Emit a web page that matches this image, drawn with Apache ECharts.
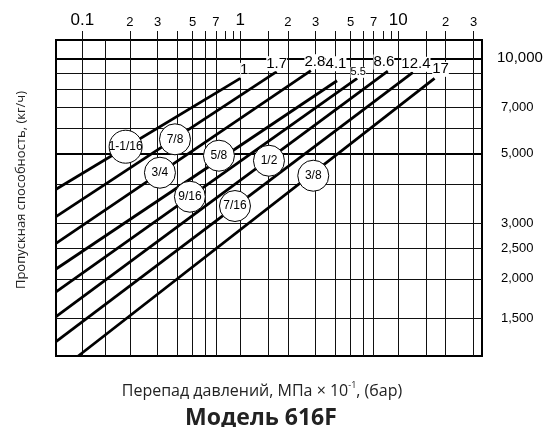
<!DOCTYPE html>
<html><head><meta charset="utf-8">
<script src="https://cdn.jsdelivr.net/npm/echarts@6/dist/echarts.min.js"></script>
<style>html,body{margin:0;padding:0;background:#fff}#c{width:554px;height:427px}</style>
</head><body><div id="c"></div>
<script>
// ---- data ----
const sizeLabels = ['1-1/16','7/8','3/4','5/8','9/16','1/2','7/16','3/8'];
const maxDpLabels = ['1','1.7','2.8','4.1','5.5','8.6','12.4','17'];
const dpStart   = [0.0681,0.0681,0.0681,0.0681,0.0681,0.0681,0.0681,0.0942];
const flowStart = [3844,3148,2592,2149,1820,1517,1264,1139];
const dpEnd     = [1,1.7,2.8,4.1,5.5,8.6,12.4,17];
const flowEnd   = [8640,9070,9135,8490,8640,9115,9030,8640];
const circleDp   = [0.188,0.386,0.310,0.733,0.480,1.52,0.926,2.90];
const circleFlow = [5246,5537,4339,4913,3642,4736,3403,4245];

const xGridValues = [0.1,0.14,0.2,0.3,0.4,0.5,0.6,0.7,1,1.5,2,3,4,5,6,7,10,15,20,30];
const xTickValues = [0.1,0.2,0.3,0.4,0.5,0.6,0.7,0.8,0.9,1,1.5,2,3,4,5,6,7,8,9,10,15,20,30];
const xLabelValues = [0.1,0.2,0.3,0.5,0.7,1,2,3,5,7,10,20,30];
const xLabelText   = ['0.1','2','3','5','7','1','2','3','5','7','10','2','3'];
const yGridValues = [1500,2000,2500,3000,4000,6000,7000,8000,9000];
const yThickValues = [5000,10000];
const yLabelValues = [1500,2000,2500,3000,5000,7000,10000];
const yLabelText   = ['1,500','2,000','2,500','3,000','5,000','7,000','10,000'];
const X_MIN = 0.0681, X_MAX = 33.96, Y_MIN = 1139, Y_MAX = 11430;

// ---- chart ----
const L = Math.log10;
const find = (vals, v) => vals.findIndex(t => Math.abs(L(t) - v) < 1e-6);
const LINE = '#111';
const labelNudge = [[4,-8],[0,-8],[4,-9],[-1,-17],[1,-6],[-4,-9],[3,-8],[6,-9]];
const NARROW = '"Liberation Sans Narrow", "Liberation Sans", sans-serif';

const xBase = {type:'value', min:L(X_MIN), max:L(X_MAX), position:'top', axisLine:{show:false}};
const yBase = {type:'value', min:L(Y_MIN), max:L(Y_MAX), position:'right', axisLine:{show:false}};

const series = [];
for (let i = 0; i < sizeLabels.length; i++) {
  series.push({type:'line', xAxisIndex:0, yAxisIndex:0, symbol:'none', silent:true, z:3,
    lineStyle:{color:'#000', width:2.8},
    data:[[L(dpStart[i]), L(flowStart[i])], [L(dpEnd[i]), L(flowEnd[i])]]});
}
series.push({type:'scatter', xAxisIndex:0, yAxisIndex:0, symbolSize:0.1, z:5, silent:true,
  itemStyle:{opacity:1, color:'#fff'},
  data: dpEnd.map((d,i)=>({value:[L(d), L(flowEnd[i])], name:maxDpLabels[i],
    label:{offset:labelNudge[i], fontSize: maxDpLabels[i]==='5.5'?11:15}})),
  label:{show:true, position:'inside', formatter:p=>p.name, color:'#000', opacity:1,
    fontFamily:'"Liberation Sans", Arial, sans-serif', backgroundColor:'#fff', padding:[0,0]}});
series.push({type:'scatter', xAxisIndex:0, yAxisIndex:0, z:6, silent:true,
  data: circleDp.map((d,i)=>({value:[L(d), L(circleFlow[i])], name:sizeLabels[i],
    symbolSize: i===0?33:31})),
  itemStyle:{color:'#fff', borderColor:'#000', borderWidth:1, opacity:1},
  label:{show:true, position:'inside', formatter:p=>p.name, color:'#000', fontSize:12,
    fontFamily:NARROW}});

const option = {
  animation:false,
  backgroundColor:'#fff',
  grid:{left:56, right:72, top:40, bottom:71, show:true, borderColor:'#000', borderWidth:2, backgroundColor:'transparent'},
  xAxis:[
    Object.assign({}, xBase, {
      axisTick:{show:true, inside:false, length:9, customValues:xTickValues.map(L), lineStyle:{color:LINE, width:1}},
      axisLabel:{show:true, margin:11, customValues:xLabelValues.map(L),
        formatter:v=>{const i=find(xLabelValues,v); const s=xLabelText[i]; return (s==='0.1'||s==='1'||s==='10')?'{b|'+s+'}':'{s|'+s+'}';},
        rich:{b:{fontSize:17, fontFamily:'"Liberation Sans", Arial', color:'#000'}, s:{fontSize:13, fontFamily:'"Liberation Sans", Arial', color:'#000'}}},
      splitLine:{show:false}}),
    Object.assign({}, xBase, {
      axisTick:{show:false, customValues:xGridValues.map(L)},
      axisLabel:{show:false},
      splitLine:{show:true, lineStyle:{color:LINE, width:1}}})
  ],
  yAxis:[
    Object.assign({}, yBase, {
      axisTick:{show:true, inside:false, length:11, customValues:yGridValues.map(L), lineStyle:{color:LINE, width:1}},
      axisLabel:{show:true, margin:15, customValues:yLabelValues.map(L),
        formatter:v=>{const i=find(yLabelValues,v); const s=yLabelText[i]; return s==='10,000'?'{b|'+s+'}':'{s|'+s+'}';},
        rich:{b:{fontSize:15, fontFamily:'"Liberation Sans", Arial', color:'#000'}, s:{fontSize:13, fontFamily:'"Liberation Sans", Arial', color:'#000', padding:[0,0,0,4]}}},
      splitLine:{show:true, lineStyle:{color:LINE, width:1}}}),
    Object.assign({}, yBase, {
      axisTick:{show:true, inside:false, length:11, customValues:yThickValues.map(L), lineStyle:{color:'#000', width:2}},
      axisLabel:{show:false},
      splitLine:{show:true, lineStyle:{color:'#000', width:2}}})
  ],
  graphic:[
    {type:'text', x:21, y:190, rotation:Math.PI/2, z:10,
      style:{text:'Пропускная способность, (кг/ч)', font:'13px "Open Sans"', fill:'#222', textAlign:'center', textVerticalAlign:'middle'}},
    {type:'text', x:262, y:391, z:10,
      style:{text:'{a|Перепад давлений, МПа × 10}{p|-1}{a|, (бар)}', textAlign:'center', textVerticalAlign:'middle',
        rich:{a:{fontSize:16, fontFamily:'"Open Sans"', fill:'#222', color:'#222', lineHeight:20},
              p:{fontSize:9, fontFamily:'"Open Sans"', fill:'#222', color:'#222', verticalAlign:'top', lineHeight:20}}}},
    {type:'text', x:261, y:418, z:10,
      style:{text:'Модель 616F', font:'bold 23px "Open Sans"', fill:'#222', textAlign:'center', textVerticalAlign:'middle'}}
  ],
  series:series
};
const chart = echarts.init(document.getElementById('c'), null, {renderer:'canvas'});
chart.setOption(option);
</script></body></html>
